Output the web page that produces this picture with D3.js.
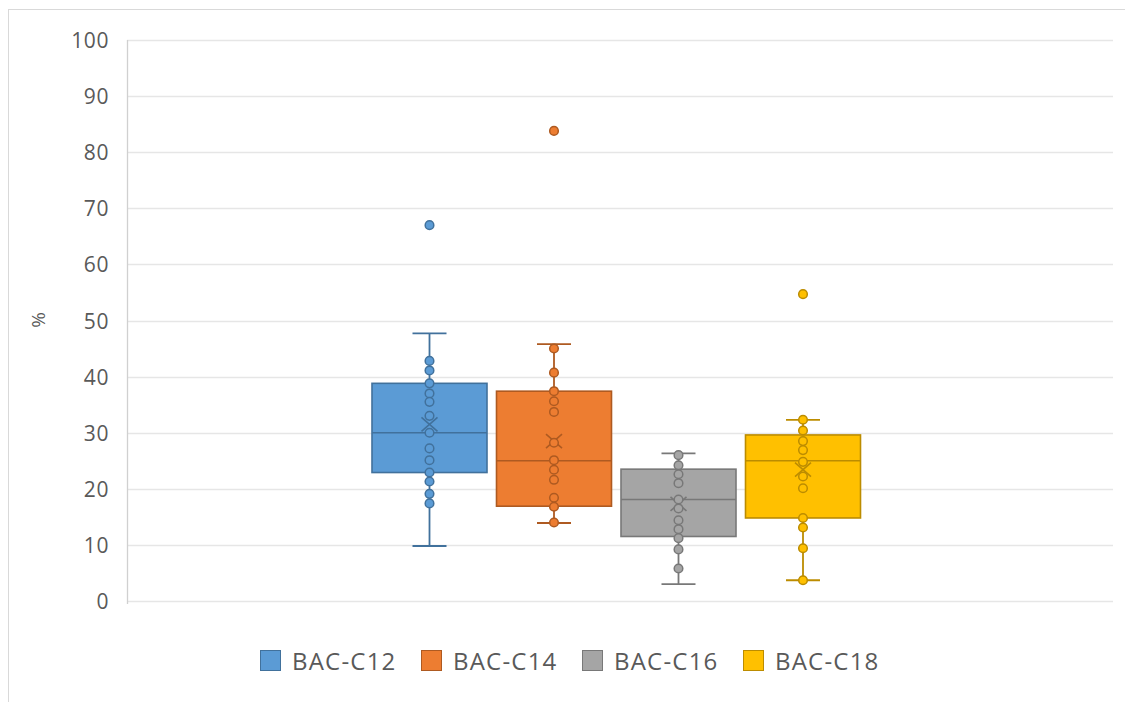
<!DOCTYPE html>
<html>
<head>
<meta charset="utf-8">
<script src="https://cdn.jsdelivr.net/npm/d3@7"></script>
<style>
  html, body { margin: 0; padding: 0; background: #fff; }
  svg { display: block; }
  text { font-family: "Open Sans", sans-serif; fill: #595959; }
</style>
</head>
<body>
<svg id="chart" width="1125" height="702"></svg>
<script>
// ---- data ----
const series = ["BAC-C12", "BAC-C14", "BAC-C16", "BAC-C18"];
const colors = ["#5b9bd5", "#ed7d31", "#a5a5a5", "#ffc000"];
const strokes = ["#41719c", "#ae5a21", "#787878", "#bc8c00"];
const q1 = [22.9, 16.9, 11.5, 14.8];
const median = [30.0, 25.0, 18.1, 25.0];
const q3 = [38.8, 37.4, 23.5, 29.6];
const whiskerLow = [9.8, 13.9, 3.0, 3.7];
const whiskerHigh = [47.7, 45.8, 26.3, 32.3];
const means = [31.5, 28.5, 17.3, 23.4];
const outliers = [[67.0], [83.8], [], [54.7]];
const innerPoints = [
  [42.8, 41.1, 38.8, 37.0, 35.5, 33.0, 30.0, 27.2, 25.1, 22.9, 21.3, 19.1, 17.4],
  [45.0, 40.7, 37.4, 35.6, 33.7, 28.2, 25.1, 23.4, 21.6, 18.4, 16.8, 14.0],
  [26.0, 24.2, 22.6, 21.0, 18.1, 16.5, 14.4, 12.8, 11.2, 9.2, 5.8],
  [32.3, 30.4, 28.5, 26.9, 24.8, 22.2, 20.1, 14.8, 13.1, 9.4, 3.7]
];
const yTicks = [0, 10, 20, 30, 40, 50, 60, 70, 80, 90, 100];
const yLabel = "%";

// ---- layout ----
const svg = d3.select("#chart");
const plotL = 127, plotR = 1113, plotT = 40, plotB = 601;

// outer chart frame
svg.append("rect").attr("x", 8.5).attr("y", 9.5).attr("width", 1130).attr("height", 720)
  .attr("fill", "none").attr("stroke", "#d9d9d9").attr("stroke-width", 1);

const y = d3.scaleLinear().domain([0, 100]).range([plotB, plotT]);
const x = d3.scaleBand().domain(series).range([372, 860.5]).paddingInner(0.0763).paddingOuter(0);

// gridlines
svg.append("g").selectAll("line").data(yTicks).join("line")
  .attr("x1", plotL).attr("x2", plotR)
  .attr("y1", d => Math.round(y(d)) + 0.5).attr("y2", d => Math.round(y(d)) + 0.5)
  .attr("stroke", "#e6e6e6").attr("stroke-width", 1.3);

// y axis
const yAxis = d3.axisLeft(y).tickValues(yTicks).tickSize(0).tickPadding(18);
const ga = svg.append("g").attr("transform", `translate(${plotL},0)`).call(yAxis);
ga.select(".domain").attr("stroke", "#d0d0d0").attr("stroke-width", 1.3)
  .attr("d", `M0.5,${plotT}V${plotB + 3}`);
ga.selectAll("text").style("font-family", "'Open Sans', sans-serif")
  .style("font-size", "21px").style("fill", "#595959").attr("dy", "0.36em")
  .attr("letter-spacing", "0.6px");

// y label
svg.append("text").attr("transform", "translate(45,320) rotate(-90)")
  .attr("text-anchor", "middle").style("font-size", "19px").text(yLabel);

// boxes
const capW = 34;
series.forEach((s, i) => {
  const g = svg.append("g");
  const cx = x(s) + x.bandwidth() / 2;
  const bw = x.bandwidth();
  // whisker
  g.append("line").attr("x1", cx).attr("x2", cx)
    .attr("y1", y(whiskerLow[i])).attr("y2", y(whiskerHigh[i]))
    .attr("stroke", strokes[i]).attr("stroke-width", 1.8);
  [whiskerLow[i], whiskerHigh[i]].forEach(v => {
    g.append("line").attr("x1", cx - capW / 2).attr("x2", cx + capW / 2)
      .attr("y1", y(v)).attr("y2", y(v)).attr("stroke", strokes[i]).attr("stroke-width", 1.8);
  });
  // box
  g.append("rect").attr("x", x(s)).attr("y", y(q3[i]))
    .attr("width", bw).attr("height", y(q1[i]) - y(q3[i]))
    .attr("fill", colors[i]).attr("stroke", strokes[i]).attr("stroke-width", 1.6);
  // median
  g.append("line").attr("x1", x(s)).attr("x2", x(s) + bw)
    .attr("y1", y(median[i])).attr("y2", y(median[i]))
    .attr("stroke", strokes[i]).attr("stroke-width", 1.6);
  // mean marker
  const my = y(means[i]);
  g.append("path").attr("d", `M${cx - 8},${my - 7}L${cx + 8},${my + 7}M${cx - 8},${my + 7}L${cx + 8},${my - 7}`)
    .attr("stroke", strokes[i]).attr("stroke-width", 1.6).attr("fill", "none");
  // points
  g.selectAll("circle.p").data(innerPoints[i].concat(outliers[i])).join("circle")
    .attr("class", "p").attr("cx", cx).attr("cy", d => y(d)).attr("r", 4.3)
    .attr("fill", colors[i]).attr("stroke", strokes[i]).attr("stroke-width", 1.5);
});

// legend
const legX = d3.scalePoint().domain(series).range([260, 743]);
const lg = svg.append("g");
series.forEach((s, i) => {
  const lx = legX(s);
  lg.append("rect").attr("x", lx + 0.5).attr("y", 650.5).attr("width", 20).attr("height", 20)
    .attr("fill", colors[i]).attr("stroke", strokes[i]).attr("stroke-width", 1);
  lg.append("text").attr("x", lx + 32).attr("y", 661).attr("dy", "0.36em")
    .style("font-size", "24px").attr("letter-spacing", "1.2px").text(s);
});
</script>
</body>
</html>
